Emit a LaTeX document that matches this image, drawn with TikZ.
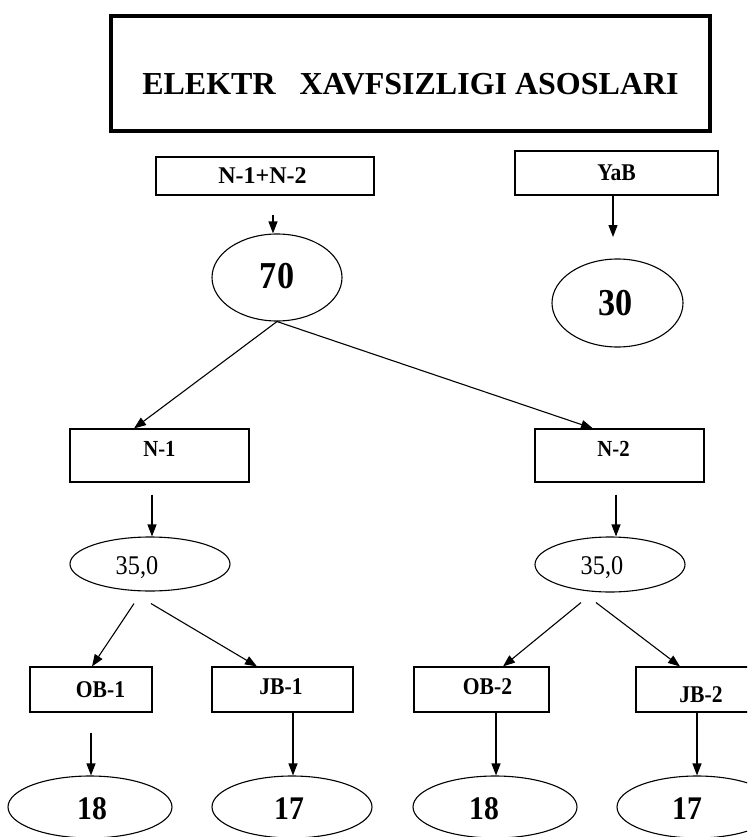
\documentclass[tikz,border=0pt]{standalone}
\usepackage{fontspec}
\setmainfont{Liberation Serif}
\newfontfamily\condfont[FakeStretch=0.9]{Liberation Serif}
\usetikzlibrary{shapes.geometric,arrows.meta}
\begin{document}
\begin{tikzpicture}[x=1pt,y=-1pt,
  box/.style={draw, line width=1.1pt, rectangle, inner sep=0pt},
  oval/.style={draw, line width=1.1pt, ellipse, inner sep=0pt},
  lab/.style={inner sep=0pt, text depth=0pt, font=\bfseries\fontsize{#1}{#1}\selectfont},
  labc/.style={inner sep=0pt, text depth=0pt, font=\condfont\bfseries\fontsize{#1}{#1}\selectfont},
  labr/.style={inner sep=0pt, text depth=0pt, font=\condfont\fontsize{#1}{#1}\selectfont},
  arr/.style={line width=1.1pt, -{Triangle[length=12pt,width=9pt]}}]
\useasboundingbox (0,0) rectangle (747,837);
\clip (0,0) rectangle (747,837);

% title
\node[box, line width=4pt, minimum width=599, minimum height=115,
  label={[lab=32, yshift=-10pt]center:ELEKTR\ \ \ XAVFSIZLIGI ASOSLARI}] (title) at (410.5,73.5) {};

% top level
\node[box, minimum width=218, minimum height=38,
  label={[lab=24, xshift=-2.5pt]center:{N-1+N-2}}] (top) at (265,176) {};
\node[box, minimum width=203, minimum height=44,
  label={[labc=24]center:YaB}] (yab) at (616.5,173) {};

\node[oval, minimum width=130, minimum height=87,
  label={[labc=38, yshift=2pt]center:70}] (e70) at (277,277.5) {};
\node[oval, minimum width=131, minimum height=88,
  label={[labc=38, xshift=-2pt]center:30}] (e30) at (617.5,303) {};

% second level
\node[box, minimum width=179, minimum height=53,
  label={[labc=23, yshift=7pt]center:N-1}] (n1) at (159.5,455.5) {};
\node[box, minimum width=169, minimum height=53,
  label={[labc=23, xshift=-6pt, yshift=6.5pt]center:N-2}] (n2) at (619.5,455.5) {};

\node[oval, minimum width=160, minimum height=54,
  label={[labr=27, xshift=-13pt, yshift=-2pt]center:{35,0}}] (l35) at (150,564) {};
\node[oval, minimum width=150, minimum height=55,
  label={[labr=27, xshift=-8pt, yshift=-1.5pt]center:{35,0}}] (r35) at (610,564.5) {};

% third level
\node[box, minimum width=122, minimum height=45,
  label={[labc=24, xshift=9.5pt]center:OB-1}] (ob1) at (91,689.5) {};
\node[box, minimum width=141, minimum height=45,
  label={[labc=24, xshift=-1.5pt, yshift=3pt]center:JB-1}] (jb1) at (282.5,689.5) {};
\node[box, minimum width=135, minimum height=45,
  label={[labc=24, xshift=6pt, yshift=3pt]center:OB-2}] (ob2) at (481.5,689.5) {};
\node[box, minimum width=130, minimum height=45,
  label={[labc=24, yshift=-5pt]center:JB-2}] (jb2) at (701,689.5) {};

% bottom
\node[oval, minimum width=164, minimum height=62,
  label={[labc=33, xshift=2pt, yshift=-2pt]center:18}] (b1) at (90,807) {};
\node[oval, minimum width=160, minimum height=62,
  label={[labc=33, xshift=-3pt, yshift=-2pt]center:17}] (b2) at (292,807) {};
\node[oval, minimum width=164, minimum height=62,
  label={[labc=33, xshift=-11pt, yshift=-2pt]center:18}] (b3) at (495,807) {};
\node[oval, minimum width=160, minimum height=62,
  label={[labc=33, xshift=-10pt, yshift=-2pt]center:17}] (b4) at (697,807) {};

% connectors
\coordinate (s70) at (273,215);
\draw[arr] (s70) -- (s70 |- e70.north);
\coordinate (t30) at (613,237);
\draw[arr] (yab.south -| t30) -- (t30);

\draw[arr] (e70.south) -- ([xshift=-25.5pt]n1.north);
\draw[arr] (e70.south) -- ([xshift=-26.5pt]n2.north);

\draw[arr] ([xshift=-7.5pt,yshift=-12pt]n1.south) -- ([xshift=2pt]l35.north);
\draw[arr] ([xshift=-3.5pt,yshift=-12pt]n2.south) -- ([xshift=6pt]r35.north);

\draw[arr] ([xshift=-16pt,yshift=-12pt]l35.south) -- ([xshift=1pt]ob1.north);
\draw[arr] ([xshift=1pt,yshift=-12pt]l35.south) -- ([xshift=-25.5pt]jb1.north);
\draw[arr] ([xshift=-29pt,yshift=-10pt]r35.south) -- ([xshift=21.5pt]ob2.north);
\draw[arr] ([xshift=-14pt,yshift=-10pt]r35.south) -- ([xshift=-21pt]jb2.north);

\draw[arr] ([yshift=-20pt]ob1.south) -- ([xshift=1pt]b1.north);
\draw[arr] ([xshift=10.5pt]jb1.south) -- ([xshift=1pt]b2.north);
\draw[arr] ([xshift=14.5pt]ob2.south) -- ([xshift=1pt]b3.north);
\draw[arr] ([xshift=-4pt]jb2.south) -- (b4.north);
\end{tikzpicture}
\end{document}
